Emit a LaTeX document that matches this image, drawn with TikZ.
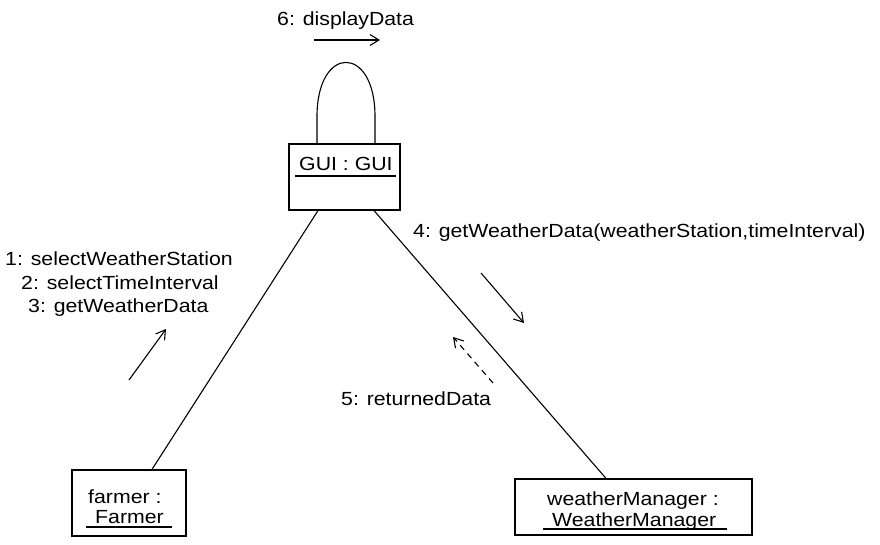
\documentclass[tikz,border=0pt]{standalone}
\usepackage{fontspec}
\setmainfont{Liberation Sans}[FakeStretch=1.12]
\usetikzlibrary{arrows.meta,calc}
\begin{document}
\begin{tikzpicture}[x=1pt,y=-1pt,
  obj/.style={draw,line width=1.2pt,inner sep=0pt},
  lbl/.style={inner sep=0pt,anchor=base west,font=\fontsize{19pt}{23pt}\selectfont},
  link/.style={line width=1.1pt},
  msg/.style={line width=1.1pt,-{Straight Barb[length=9pt,width=11pt]}},
  ul/.style={line width=1.2pt}]
\useasboundingbox[fill=white] (0,0) rectangle (880,544);
% objects
\node[obj,minimum width=111pt,minimum height=66pt] (gui) at (344.5,177) {};
\node[obj,minimum width=114pt,minimum height=66pt] (farmer) at (129,503) {};
\node[obj,minimum width=237pt,minimum height=56pt] (wm) at (633.5,507) {};
% object labels
\node[lbl] (guitxt) at (299,170) {GUI : GUI};
\draw[ul] (295,176) -- (396,176);
\node[lbl] (farmer1) at (88,503) {farmer :};
\node[lbl] (farmer2) at (95,523) {Farmer};
\draw[ul] (86,527) -- (172,527);
\node[lbl] (wm1) at (547,505) {weatherManager :};
\node[lbl] (wm2) at (552,526) {WeatherManager};
\draw[ul] (543,529) -- (727,529);
% links
\draw[link] ([xshift=23pt]farmer.north) -- ([xshift=-26.5pt]gui.south);
\draw[link] ([xshift=-27.5pt]wm.north) -- ([xshift=29.5pt]gui.south);
\draw[link] ([xshift=-27.5pt]gui.north) -- ++(0,-27)
  .. controls +(0,-72) and +(0,-72) .. ++(58,0) -- ++(0,27);
% messages
\coordinate (m6a) at (314,40); \coordinate (m6b) at (380,40);
\draw[msg] (m6a) -- (m6b);
\node[lbl] (m6) at (277,25) {6: displayData};
\coordinate (m1a) at (129,380); \coordinate (m1b) at (166,329);
\draw[msg] (m1a) -- (m1b);
\node[lbl] (m1) at (5,265) {1: selectWeatherStation};
\node[lbl] (m2) at (21,289) {2: selectTimeInterval};
\node[lbl] (m3) at (28,312) {3: getWeatherData};
\coordinate (m4a) at (481,273); \coordinate (m4b) at (524,323);
\draw[msg] (m4a) -- (m4b);
\node[lbl] (m4) at (413,237) {4: getWeatherData(weatherStation,timeInterval)};
\coordinate (m5a) at (493,383); \coordinate (m5b) at (453,337);
\draw[msg,dash pattern=on 6pt off 5pt] (m5a) -- (m5b);
\node[lbl] (m5) at (341,405) {5: returnedData};
\end{tikzpicture}
\end{document}
